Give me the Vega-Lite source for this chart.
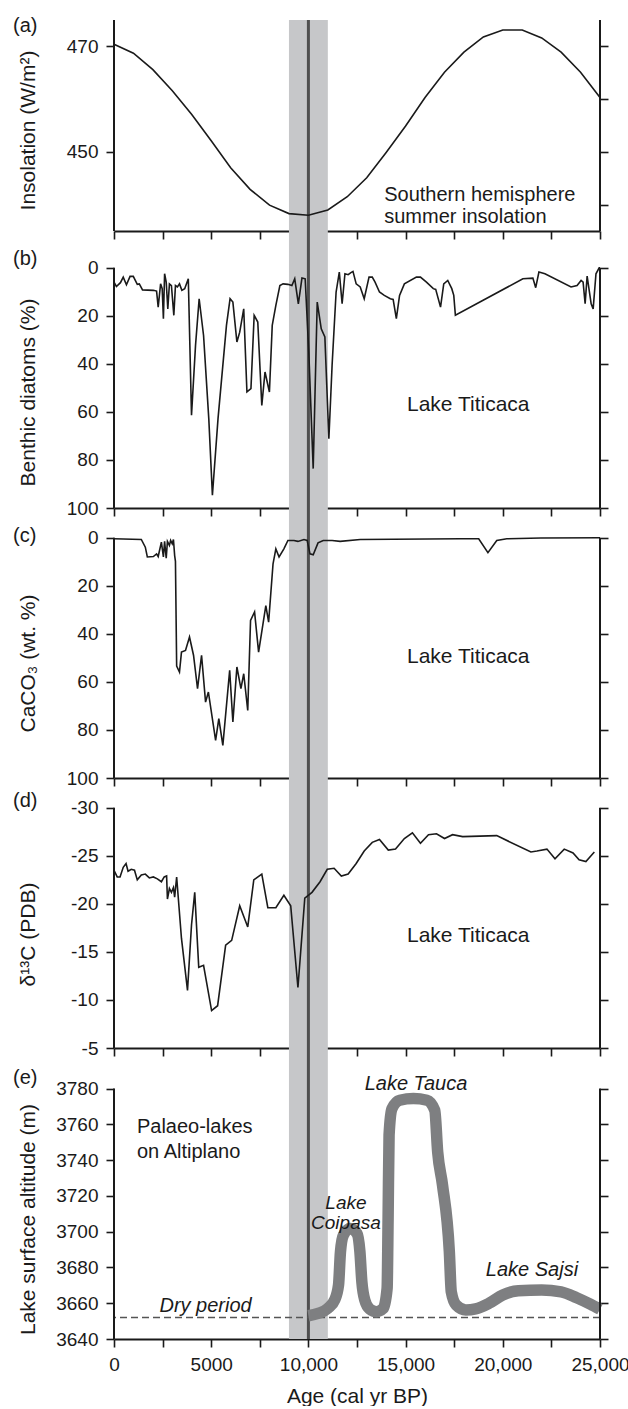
{
  "$schema": "https://vega.github.io/schema/vega-lite/v6.json",
  "padding": {"left": 13, "top": 15, "right": 0, "bottom": 0},
  "background": "white",
  "config": {
    "font": "Liberation Sans",
    "view": {"stroke": null},
    "axis": {"grid": false, "domainColor": "#1a1a1a", "domainWidth": 2, "tickColor": "#1a1a1a", "tickWidth": 1.6, "tickSize": 8, "labelFont": "Liberation Sans", "labelFontSize": 19, "labelColor": "#1a1a1a", "labelPadding": 8, "labelFlush": false, "labelOverlap": false, "labelBound": false, "titleFont": "Liberation Sans", "titleFontSize": 21, "titleFontWeight": "normal", "titleColor": "#1a1a1a", "zindex": 1},
    "title": {"font": "Liberation Sans", "fontSize": 20, "fontWeight": "normal", "color": "#1a1a1a", "anchor": "start", "frame": "group", "offset": 0, "align": "left", "baseline": "alphabetic", "dx": -101},
    "text": {"font": "Liberation Sans", "fontSize": 20, "color": "#1a1a1a"}
  },
  "datasets": {
    "insolation": [
      {"age": 0, "value": 470.4}, {"age": 1000, "value": 468.7}, {"age": 2000, "value": 465.6}, {"age": 3000, "value": 461.6},
      {"age": 4000, "value": 457.1}, {"age": 5000, "value": 452.1}, {"age": 6000, "value": 447.0}, {"age": 7000, "value": 442.9},
      {"age": 8000, "value": 439.9}, {"age": 9000, "value": 438.3}, {"age": 10000, "value": 438.0}, {"age": 11000, "value": 439.0},
      {"age": 12000, "value": 441.5}, {"age": 13000, "value": 445.1}, {"age": 14000, "value": 449.9}, {"age": 15000, "value": 454.9},
      {"age": 16000, "value": 460.3}, {"age": 17000, "value": 465.1}, {"age": 18000, "value": 468.9}, {"age": 19000, "value": 471.8},
      {"age": 20000, "value": 473.1}, {"age": 21000, "value": 473.1}, {"age": 22000, "value": 471.6}, {"age": 23000, "value": 468.9},
      {"age": 24000, "value": 465.1}, {"age": 25000, "value": 460.3}
    ],
    "diatoms": [
      {"age": 0, "value": 6.0}, {"age": 124, "value": 7.8}, {"age": 331, "value": 6.2}, {"age": 475, "value": 3.9},
      {"age": 640, "value": 7.1}, {"age": 826, "value": 3.6}, {"age": 992, "value": 3.6}, {"age": 1198, "value": 6.9},
      {"age": 1302, "value": 6.7}, {"age": 1467, "value": 9.2}, {"age": 2025, "value": 9.4}, {"age": 2190, "value": 9.7},
      {"age": 2273, "value": 16.4}, {"age": 2397, "value": 6.7}, {"age": 2479, "value": 8.7}, {"age": 2541, "value": 21.2},
      {"age": 2603, "value": 2.5}, {"age": 2686, "value": 6.0}, {"age": 2768, "value": 17.1}, {"age": 2851, "value": 6.7},
      {"age": 2954, "value": 7.4}, {"age": 3078, "value": 19.8}, {"age": 3161, "value": 7.4}, {"age": 3264, "value": 8.0},
      {"age": 3368, "value": 6.7}, {"age": 3492, "value": 9.4}, {"age": 3636, "value": 8.7}, {"age": 3822, "value": 4.6},
      {"age": 3987, "value": 61.4}, {"age": 4194, "value": 32.3}, {"age": 4380, "value": 12.9}, {"age": 4607, "value": 28.2},
      {"age": 4876, "value": 62.8}, {"age": 5062, "value": 94.7}, {"age": 5351, "value": 62.8}, {"age": 5785, "value": 24.0},
      {"age": 5971, "value": 12.9}, {"age": 6115, "value": 14.3}, {"age": 6322, "value": 30.9}, {"age": 6467, "value": 26.8},
      {"age": 6673, "value": 17.1}, {"age": 6838, "value": 51.7}, {"age": 7045, "value": 50.3}, {"age": 7210, "value": 19.8},
      {"age": 7396, "value": 22.6}, {"age": 7603, "value": 57.3}, {"age": 7768, "value": 43.4}, {"age": 7995, "value": 51.7},
      {"age": 8140, "value": 24.0}, {"age": 8326, "value": 15.7}, {"age": 8533, "value": 7.4}, {"age": 8698, "value": 6.7},
      {"age": 8946, "value": 6.9}, {"age": 9152, "value": 7.4}, {"age": 9297, "value": 4.6}, {"age": 9483, "value": 15.0},
      {"age": 9669, "value": 4.3}, {"age": 9834, "value": 4.6}, {"age": 10020, "value": 35.1}, {"age": 10247, "value": 83.6},
      {"age": 10454, "value": 14.3}, {"age": 10661, "value": 25.4}, {"age": 10847, "value": 28.8}, {"age": 11053, "value": 71.2},
      {"age": 11219, "value": 40.6}, {"age": 11425, "value": 10.1}, {"age": 11590, "value": 1.8}, {"age": 11735, "value": 15.0},
      {"age": 11880, "value": 2.5}, {"age": 12045, "value": 2.9}, {"age": 12169, "value": 2.1}, {"age": 12293, "value": 1.5},
      {"age": 12458, "value": 6.7}, {"age": 12665, "value": 8.0}, {"age": 12871, "value": 12.9}, {"age": 13119, "value": 3.9},
      {"age": 13285, "value": 3.9}, {"age": 13429, "value": 6.0}, {"age": 13656, "value": 10.1}, {"age": 13904, "value": 11.5},
      {"age": 14214, "value": 12.9}, {"age": 14359, "value": 13.2}, {"age": 14524, "value": 21.2}, {"age": 14689, "value": 11.5},
      {"age": 14937, "value": 6.7}, {"age": 15557, "value": 3.9}, {"age": 15764, "value": 3.9}, {"age": 16073, "value": 6.0},
      {"age": 16425, "value": 8.7}, {"age": 16549, "value": 9.0}, {"age": 16797, "value": 16.4}, {"age": 16962, "value": 6.7},
      {"age": 17168, "value": 5.3}, {"age": 17375, "value": 8.7}, {"age": 17478, "value": 11.5}, {"age": 17561, "value": 19.8},
      {"age": 21032, "value": 4.6}, {"age": 21548, "value": 4.3}, {"age": 21693, "value": 8.3}, {"age": 21858, "value": 1.8},
      {"age": 22168, "value": 2.5}, {"age": 23511, "value": 8.0}, {"age": 23821, "value": 7.4}, {"age": 24028, "value": 5.3},
      {"age": 24131, "value": 6.0}, {"age": 24235, "value": 15.0}, {"age": 24338, "value": 3.5}, {"age": 24545, "value": 15.0},
      {"age": 24648, "value": 17.1}, {"age": 24793, "value": 2.5}, {"age": 24958, "value": 0}, {"age": 25000, "value": 0}
    ],
    "caco3": [
      {"age": 0, "value": 0.4}, {"age": 1405, "value": 0.7}, {"age": 1611, "value": 3.9}, {"age": 1715, "value": 8.0},
      {"age": 2025, "value": 7.8}, {"age": 2190, "value": 6.7}, {"age": 2273, "value": 7.8}, {"age": 2438, "value": 1.8},
      {"age": 2541, "value": 8.0}, {"age": 2603, "value": 1.5}, {"age": 2686, "value": 8.5}, {"age": 2748, "value": 1.5},
      {"age": 2851, "value": 3.2}, {"age": 2913, "value": 1.1}, {"age": 2996, "value": 2.5}, {"age": 3058, "value": 0.7},
      {"age": 3120, "value": 7.4}, {"age": 3161, "value": 9.8}, {"age": 3223, "value": 53.4}, {"age": 3368, "value": 55.9},
      {"age": 3471, "value": 47.6}, {"age": 3678, "value": 46.9}, {"age": 3884, "value": 41.3}, {"age": 4091, "value": 48.9},
      {"age": 4297, "value": 62.8}, {"age": 4504, "value": 48.9}, {"age": 4710, "value": 68.4}, {"age": 4855, "value": 64.2},
      {"age": 5227, "value": 84.3}, {"age": 5392, "value": 75.3}, {"age": 5599, "value": 86.4}, {"age": 5950, "value": 55.2},
      {"age": 6115, "value": 76.7}, {"age": 6322, "value": 53.8}, {"age": 6529, "value": 62.8}, {"age": 6673, "value": 56.6},
      {"age": 6880, "value": 71.9}, {"age": 7024, "value": 34.4}, {"age": 7231, "value": 30.9}, {"age": 7438, "value": 47.6},
      {"age": 7810, "value": 28.2}, {"age": 7954, "value": 35.1}, {"age": 8181, "value": 10.8}, {"age": 8326, "value": 4.6},
      {"age": 8491, "value": 8.0}, {"age": 8739, "value": 4.6}, {"age": 8946, "value": 1.1}, {"age": 9256, "value": 1.1},
      {"age": 9462, "value": 1.5}, {"age": 9772, "value": 0.7}, {"age": 9937, "value": 1.1}, {"age": 10082, "value": 6.7},
      {"age": 10247, "value": 7.1}, {"age": 10495, "value": 2.1}, {"age": 10764, "value": 1.1}, {"age": 11219, "value": 1.1},
      {"age": 11632, "value": 1.5}, {"age": 12665, "value": 0.7}, {"age": 17830, "value": 0.4}, {"age": 18760, "value": 0.4},
      {"age": 19235, "value": 6.2}, {"age": 19689, "value": 1.1}, {"age": 20206, "value": 0.4}, {"age": 21962, "value": 0.1},
      {"age": 25000, "value": 0}
    ],
    "d13c": [
      {"age": 0, "value": -23.5}, {"age": 165, "value": -22.8}, {"age": 310, "value": -22.8}, {"age": 475, "value": -23.8},
      {"age": 620, "value": -24.2}, {"age": 723, "value": -23.4}, {"age": 888, "value": -23.6}, {"age": 1054, "value": -23.5},
      {"age": 1198, "value": -22.5}, {"age": 1405, "value": -23.0}, {"age": 1611, "value": -23.1}, {"age": 1818, "value": -22.7},
      {"age": 2025, "value": -22.8}, {"age": 2231, "value": -22.6}, {"age": 2438, "value": -22.3}, {"age": 2583, "value": -22.8},
      {"age": 2706, "value": -22.9}, {"age": 2748, "value": -20.5}, {"age": 2851, "value": -21.6}, {"age": 2954, "value": -21.2},
      {"age": 3058, "value": -21.7}, {"age": 3120, "value": -20.7}, {"age": 3223, "value": -22.8}, {"age": 3471, "value": -16.4},
      {"age": 3781, "value": -11.0}, {"age": 3987, "value": -17.8}, {"age": 4153, "value": -21.2}, {"age": 4359, "value": -13.4},
      {"age": 4607, "value": -13.6}, {"age": 5020, "value": -8.9}, {"age": 5330, "value": -9.4}, {"age": 5743, "value": -15.7},
      {"age": 6053, "value": -16.2}, {"age": 6467, "value": -19.8}, {"age": 6880, "value": -17.6}, {"age": 7190, "value": -22.5},
      {"age": 7603, "value": -23.1}, {"age": 7913, "value": -19.6}, {"age": 8326, "value": -19.6}, {"age": 8739, "value": -20.9},
      {"age": 9090, "value": -19.8}, {"age": 9462, "value": -11.3}, {"age": 9814, "value": -20.6}, {"age": 10185, "value": -21.2},
      {"age": 10599, "value": -22.3}, {"age": 10970, "value": -23.6}, {"age": 11322, "value": -23.7}, {"age": 11694, "value": -22.9},
      {"age": 12045, "value": -23.1}, {"age": 12458, "value": -24.2}, {"age": 12871, "value": -25.5}, {"age": 13285, "value": -26.4},
      {"age": 13656, "value": -26.7}, {"age": 14110, "value": -25.6}, {"age": 14482, "value": -25.7}, {"age": 14937, "value": -26.8},
      {"age": 15350, "value": -27.4}, {"age": 15764, "value": -26.3}, {"age": 16177, "value": -27.2}, {"age": 16590, "value": -27.3},
      {"age": 17003, "value": -26.8}, {"age": 17416, "value": -27.2}, {"age": 17933, "value": -27.0}, {"age": 19689, "value": -27.1},
      {"age": 21445, "value": -25.4}, {"age": 21755, "value": -25.5}, {"age": 22271, "value": -25.7}, {"age": 22685, "value": -24.7},
      {"age": 23160, "value": -25.7}, {"age": 23614, "value": -25.3}, {"age": 23924, "value": -24.6}, {"age": 24275, "value": -24.4},
      {"age": 24709, "value": -25.4}
    ],
    "lakes": [
      {"age": 10000, "value": 3653}, {"age": 10500, "value": 3654.3}, {"age": 11000, "value": 3657.1}, {"age": 11350, "value": 3661.8},
      {"age": 11550, "value": 3670.2}, {"age": 11650, "value": 3688.8}, {"age": 11800, "value": 3698.1}, {"age": 12150, "value": 3701.8},
      {"age": 12500, "value": 3699}, {"age": 12650, "value": 3688.8}, {"age": 12750, "value": 3672}, {"age": 12900, "value": 3661.8},
      {"age": 13150, "value": 3656.8}, {"age": 13500, "value": 3655.3}, {"age": 13850, "value": 3657.1}, {"age": 14050, "value": 3668.4},
      {"age": 14100, "value": 3707.4}, {"age": 14150, "value": 3754}, {"age": 14300, "value": 3768.8}, {"age": 14700, "value": 3773.5},
      {"age": 15400, "value": 3774.4}, {"age": 16100, "value": 3773.5}, {"age": 16500, "value": 3767.9}, {"age": 16650, "value": 3744.6},
      {"age": 16900, "value": 3726}, {"age": 17250, "value": 3688.8}, {"age": 17350, "value": 3666.4}, {"age": 17600, "value": 3659},
      {"age": 18100, "value": 3656.2}, {"age": 18600, "value": 3656.8}, {"age": 19300, "value": 3660}, {"age": 20000, "value": 3664.6},
      {"age": 20800, "value": 3667}, {"age": 22000, "value": 3667.4}, {"age": 23000, "value": 3666.4}, {"age": 23800, "value": 3663.1},
      {"age": 24500, "value": 3659.5}, {"age": 25000, "value": 3656.6}
    ]
  },
  "spacing": 0,
  "bounds": "flush",
  "vconcat": [
    {
      "width": 486, "height": 211,
      "title": {"text": "(a)", "dy": 21},
      "resolve": {"axis": {"y": "independent"}},
      "layer": [
        {"data": {"values": [{}]}, "mark": {"type": "rect", "color": "#c6c7c9"},
         "encoding": {"x": {"datum": 9000, "type": "quantitative", "scale": {"domain": [0, 25000], "nice": false, "zero": false},
                            "axis": {"values": [0, 2500, 5000, 7500, 10000, 12500, 15000, 17500, 20000, 22500, 25000], "labels": false, "title": null}},
                      "x2": {"datum": 11000}}},
        {"data": {"values": [{}]}, "mark": {"type": "rule", "color": "#4f4f4f", "strokeWidth": 3},
         "encoding": {"x": {"datum": 10000, "type": "quantitative"}}},
        {"data": {"name": "insolation"}, "mark": {"type": "line", "color": "#1a1a1a", "strokeWidth": 1.6},
         "encoding": {"x": {"field": "age", "type": "quantitative"},
                      "y": {"field": "value", "type": "quantitative", "scale": {"domain": [435, 475], "nice": false, "zero": false}, "axis": null}}},
        {"data": {"values": [{}]}, "mark": {"type": "rule", "color": "#1a1a1a", "strokeWidth": 2},
         "encoding": {"x": {"datum": 0, "type": "quantitative"},
                      "y": {"datum": 435, "type": "quantitative", "axis": {"orient": "left", "values": [450, 470], "domain": false, "title": "Insolation (W/m²)", "titleX": -86, "titleY": 110, "titleAngle": -90, "titleAlign": "center", "titleBaseline": "middle"}},
                      "y2": {"datum": 475}}},
        {"data": {"values": [{}]}, "mark": {"type": "rule", "color": "#1a1a1a", "strokeWidth": 2},
         "encoding": {"x": {"datum": 25000, "type": "quantitative"},
                      "y": {"datum": 435, "type": "quantitative", "axis": {"orient": "right", "values": [440, 450, 460, 470], "domain": false, "labels": false, "title": null}},
                      "y2": {"datum": 475}}},
        {"data": {"values": [{}]}, "mark": {"type": "text", "align": "left", "baseline": "middle", "lineHeight": 22, "text": ["Southern hemisphere", "summer insolation"]},
         "encoding": {"x": {"datum": 13900, "type": "quantitative"}, "y": {"datum": 441.9, "type": "quantitative", "axis": null}}}
      ]
    },
    {
      "width": 486, "height": 277,
      "title": {"text": "(b)", "dy": 43},
      "resolve": {"axis": {"y": "independent"}},
      "layer": [
        {"data": {"values": [{}]}, "mark": {"type": "rect", "color": "#c6c7c9"},
         "encoding": {"x": {"datum": 9000, "type": "quantitative", "scale": {"domain": [0, 25000], "nice": false, "zero": false},
                            "axis": {"values": [0, 2500, 5000, 7500, 10000, 12500, 15000, 17500, 20000, 22500, 25000], "labels": false, "title": null}},
                      "x2": {"datum": 11000}}},
        {"data": {"values": [{}]}, "mark": {"type": "rule", "color": "#4f4f4f", "strokeWidth": 3},
         "encoding": {"x": {"datum": 10000, "type": "quantitative"}}},
        {"data": {"name": "diatoms"}, "mark": {"type": "line", "color": "#1a1a1a", "strokeWidth": 1.6},
         "encoding": {"x": {"field": "age", "type": "quantitative"},
                      "y": {"field": "value", "type": "quantitative", "scale": {"domain": [-15.3, 100], "reverse": true, "nice": false, "zero": false}, "axis": null}}},
        {"data": {"values": [{}]}, "mark": {"type": "rule", "color": "#1a1a1a", "strokeWidth": 2},
         "encoding": {"x": {"datum": 0, "type": "quantitative"},
                      "y": {"datum": 0, "type": "quantitative", "axis": {"orient": "left", "values": [0, 20, 40, 60, 80, 100], "domain": false, "title": "Benthic diatoms (%)", "titleX": -86, "titleY": 161, "titleAngle": -90, "titleAlign": "center", "titleBaseline": "middle"}},
                      "y2": {"datum": 100}}},
        {"data": {"values": [{}]}, "mark": {"type": "rule", "color": "#1a1a1a", "strokeWidth": 2},
         "encoding": {"x": {"datum": 25000, "type": "quantitative"},
                      "y": {"datum": 0, "type": "quantitative", "axis": {"orient": "right", "values": [0, 20, 40, 60, 80, 100], "domain": false, "labels": false, "title": null}},
                      "y2": {"datum": 100}}},
        {"data": {"values": [{}]}, "mark": {"type": "text", "align": "left", "baseline": "middle", "text": "Lake Titicaca", "fontSize": 21},
         "encoding": {"x": {"datum": 15070, "type": "quantitative"}, "y": {"datum": 57.1, "type": "quantitative", "axis": null}}}
      ]
    },
    {
      "width": 486, "height": 270,
      "title": {"text": "(c)", "dy": 43},
      "resolve": {"axis": {"y": "independent"}},
      "layer": [
        {"data": {"values": [{}]}, "mark": {"type": "rect", "color": "#c6c7c9"},
         "encoding": {"x": {"datum": 9000, "type": "quantitative", "scale": {"domain": [0, 25000], "nice": false, "zero": false},
                            "axis": {"values": [0, 2500, 5000, 7500, 10000, 12500, 15000, 17500, 20000, 22500, 25000], "labels": false, "title": null}},
                      "x2": {"datum": 11000}}},
        {"data": {"values": [{}]}, "mark": {"type": "rule", "color": "#4f4f4f", "strokeWidth": 3},
         "encoding": {"x": {"datum": 10000, "type": "quantitative"}}},
        {"data": {"name": "caco3"}, "mark": {"type": "line", "color": "#1a1a1a", "strokeWidth": 1.6},
         "encoding": {"x": {"field": "age", "type": "quantitative"},
                      "y": {"field": "value", "type": "quantitative", "scale": {"domain": [-12.4, 100], "reverse": true, "nice": false, "zero": false}, "axis": null}}},
        {"data": {"values": [{}]}, "mark": {"type": "rule", "color": "#1a1a1a", "strokeWidth": 2},
         "encoding": {"x": {"datum": 0, "type": "quantitative"},
                      "y": {"datum": 0, "type": "quantitative", "axis": {"orient": "left", "values": [0, 20, 40, 60, 80, 100], "domain": false, "title": "CaCO₃ (wt. %)", "titleX": -86, "titleY": 155, "titleAngle": -90, "titleAlign": "center", "titleBaseline": "middle"}},
                      "y2": {"datum": 100}}},
        {"data": {"values": [{}]}, "mark": {"type": "rule", "color": "#1a1a1a", "strokeWidth": 2},
         "encoding": {"x": {"datum": 25000, "type": "quantitative"},
                      "y": {"datum": 0, "type": "quantitative", "axis": {"orient": "right", "values": [0, 20, 40, 60, 80, 100], "domain": false, "labels": false, "title": null}},
                      "y2": {"datum": 100}}},
        {"data": {"values": [{}]}, "mark": {"type": "text", "align": "left", "baseline": "middle", "text": "Lake Titicaca", "fontSize": 21},
         "encoding": {"x": {"datum": 15070, "type": "quantitative"}, "y": {"datum": 49.6, "type": "quantitative", "axis": null}}}
      ]
    },
    {
      "width": 486, "height": 270,
      "title": {"text": "(d)", "dy": 38},
      "resolve": {"axis": {"y": "independent"}},
      "layer": [
        {"data": {"values": [{}]}, "mark": {"type": "rect", "color": "#c6c7c9"},
         "encoding": {"x": {"datum": 9000, "type": "quantitative", "scale": {"domain": [0, 25000], "nice": false, "zero": false},
                            "axis": {"values": [0, 2500, 5000, 7500, 10000, 12500, 15000, 17500, 20000, 22500, 25000], "labels": false, "title": null}},
                      "x2": {"datum": 11000}}},
        {"data": {"values": [{}]}, "mark": {"type": "rule", "color": "#4f4f4f", "strokeWidth": 3},
         "encoding": {"x": {"datum": 10000, "type": "quantitative"}}},
        {"data": {"name": "d13c"}, "mark": {"type": "line", "color": "#1a1a1a", "strokeWidth": 1.6},
         "encoding": {"x": {"field": "age", "type": "quantitative"},
                      "y": {"field": "value", "type": "quantitative", "scale": {"domain": [-33.1, -5], "reverse": true, "nice": false, "zero": false}, "axis": null}}},
        {"data": {"values": [{}]}, "mark": {"type": "rule", "color": "#1a1a1a", "strokeWidth": 2},
         "encoding": {"x": {"datum": 0, "type": "quantitative"},
                      "y": {"datum": -30, "type": "quantitative", "axis": {"orient": "left", "values": [-30, -25, -20, -15, -10, -5], "labelExpr": "'' + datum.value", "domain": false, "title": "δ¹³C (PDB)", "titleX": -86, "titleY": 156, "titleAngle": -90, "titleAlign": "center", "titleBaseline": "middle"}},
                      "y2": {"datum": -5}}},
        {"data": {"values": [{}]}, "mark": {"type": "rule", "color": "#1a1a1a", "strokeWidth": 2},
         "encoding": {"x": {"datum": 25000, "type": "quantitative"},
                      "y": {"datum": -30, "type": "quantitative", "axis": {"orient": "right", "values": [-30, -25, -20, -15, -10, -5], "domain": false, "labels": false, "title": null}},
                      "y2": {"datum": -5}}},
        {"data": {"values": [{}]}, "mark": {"type": "text", "align": "left", "baseline": "middle", "text": "Lake Titicaca", "fontSize": 21},
         "encoding": {"x": {"datum": 15070, "type": "quantitative"}, "y": {"datum": -16.7, "type": "quantitative", "axis": null}}}
      ]
    },
    {
      "width": 486, "height": 291,
      "title": {"text": "(e)", "dy": 45},
      "resolve": {"axis": {"y": "independent"}},
      "layer": [
        {"data": {"values": [{}]}, "mark": {"type": "rect", "color": "#c6c7c9"},
         "encoding": {"x": {"datum": 9000, "type": "quantitative", "scale": {"domain": [0, 25000], "nice": false, "zero": false},
                            "axis": {"values": [0, 2500, 5000, 7500, 10000, 12500, 15000, 17500, 20000, 22500, 25000],
                                     "labelExpr": "datum.value % 5000 == 0 ? (datum.value == 5000 ? '5000' : format(datum.value, ',')) : ''",
                                     "title": "Age (cal yr BP)", "titlePadding": 11}},
                      "x2": {"datum": 11000}}},
        {"data": {"values": [{}]}, "mark": {"type": "rule", "color": "#4f4f4f", "strokeWidth": 3},
         "encoding": {"x": {"datum": 10000, "type": "quantitative"}}},
        {"data": {"values": [{}]}, "mark": {"type": "rule", "color": "#555555", "strokeWidth": 1.5, "strokeDash": [7, 4]},
         "encoding": {"y": {"datum": 3652, "type": "quantitative", "axis": null}}},
        {"data": {"name": "lakes"}, "mark": {"type": "line", "color": "#7e7f81", "strokeWidth": 11.5, "interpolate": "monotone"},
         "encoding": {"x": {"field": "age", "type": "quantitative"},
                      "y": {"field": "value", "type": "quantitative", "scale": {"domain": [3640, 3802.7], "nice": false, "zero": false}, "axis": null}}},
        {"data": {"values": [{}]}, "mark": {"type": "rule", "color": "#1a1a1a", "strokeWidth": 2},
         "encoding": {"x": {"datum": 0, "type": "quantitative"},
                      "y": {"datum": 3640, "type": "quantitative", "axis": {"orient": "left", "values": [3640, 3660, 3680, 3700, 3720, 3740, 3760, 3780], "labelExpr": "'' + datum.value", "domain": false, "title": "Lake surface altitude (m)", "titleX": -86, "titleY": 171, "titleAngle": -90, "titleAlign": "center", "titleBaseline": "middle"}},
                      "y2": {"datum": 3780}}},
        {"data": {"values": [{}]}, "mark": {"type": "rule", "color": "#1a1a1a", "strokeWidth": 2},
         "encoding": {"x": {"datum": 25000, "type": "quantitative"},
                      "y": {"datum": 3640, "type": "quantitative", "axis": {"orient": "right", "values": [3640, 3660, 3680, 3700, 3720, 3740, 3760, 3780], "domain": false, "labels": false, "title": null}},
                      "y2": {"datum": 3780}}},
        {"data": {"values": [{}]}, "mark": {"type": "text", "align": "left", "baseline": "middle", "lineHeight": 25.6, "text": ["Palaeo-lakes", "on Altiplano"]},
         "encoding": {"x": {"datum": 1180, "type": "quantitative"}, "y": {"datum": 3758.8, "type": "quantitative", "axis": null}}},
        {"data": {"values": [{}]}, "mark": {"type": "text", "align": "center", "baseline": "middle", "fontStyle": "italic", "text": "Lake Tauca"},
         "encoding": {"x": {"datum": 15535, "type": "quantitative"}, "y": {"datum": 3782.8, "type": "quantitative", "axis": null}}},
        {"data": {"values": [{}]}, "mark": {"type": "text", "align": "center", "baseline": "middle", "fontStyle": "italic", "fontSize": 19, "lineHeight": 20, "text": ["Lake", "Coipasa"]},
         "encoding": {"x": {"datum": 11930, "type": "quantitative"}, "y": {"datum": 3716.1, "type": "quantitative", "axis": null}}},
        {"data": {"values": [{}]}, "mark": {"type": "text", "align": "center", "baseline": "middle", "fontStyle": "italic", "text": "Lake Sajsi"},
         "encoding": {"x": {"datum": 21500, "type": "quantitative"}, "y": {"datum": 3678.6, "type": "quantitative", "axis": null}}},
        {"data": {"values": [{}]}, "mark": {"type": "text", "align": "center", "baseline": "middle", "fontStyle": "italic", "text": "Dry period"},
         "encoding": {"x": {"datum": 4710, "type": "quantitative"}, "y": {"datum": 3658.7, "type": "quantitative", "axis": null}}}
      ]
    }
  ]
}
